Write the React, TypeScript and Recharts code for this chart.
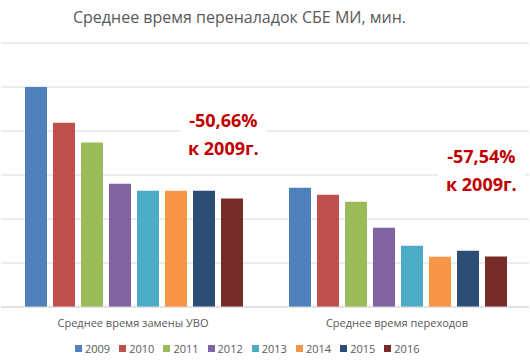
import { BarChart, Bar, XAxis, YAxis, CartesianGrid } from 'recharts';

// categories and per-year values (minutes)
const categories = ['Среднее время замены УВО', 'Среднее время переходов'];
const years = ['2009', '2010', '2011', '2012', '2013', '2014', '2015', '2016'];
const colors = ['#4F81BD', '#C0504D', '#9BBB59', '#8064A2', '#4BACC6', '#F79646', '#2C4D75', '#772C2A'];
const uvoValues = [50, 41.9, 37.4, 28, 26.4, 26.4, 26.4, 24.67];
const transitionValues = [27.1, 25.5, 23.9, 18, 13.9, 11.4, 12.8, 11.5];
const yTicks = [0, 10, 20, 30, 40, 50, 60];

const seriesByCategory = [uvoValues, transitionValues];

const chartData = categories.map((name, ci) => {
    const row: Record<string, any> = { name };
    years.forEach((y, yi) => { row[y] = seriesByCategory[ci][yi]; });
    return row;
});

const font = '"Open Sans", "Liberation Sans", sans-serif';

const noteStyle: React.CSSProperties = {
    position: 'absolute',
    background: '#ffffff',
    color: '#C00000',
    fontFamily: font,
    fontWeight: 700,
    fontSize: 18,
    lineHeight: '28px',
    textAlign: 'center',
    padding: '0 8px',
};

export default function App() {
    return (
        <div style={{ position: 'absolute', left: 0, top: 0, width: 530, height: 361, background: '#fff', fontFamily: font }}>
            <div style={{ position: 'absolute', left: 73, top: 6, fontSize: 16, color: '#595959', whiteSpace: 'nowrap' }}>
                Среднее время переналадок СБЕ МИ, мин.
            </div>
            <BarChart
                width={530}
                height={361}
                data={chartData}
                margin={{ top: 43, right: 1, bottom: 24, left: 1 }}
                barCategoryGap={24}
                barGap={6}
            >
                <CartesianGrid vertical={false} stroke="#d9d9d9" />
                <YAxis hide domain={[0, 60]} ticks={yTicks} />
                <XAxis
                    dataKey="name"
                    height={30}
                    tickLine={false}
                    axisLine={{ stroke: '#d9d9d9' }}
                    tickMargin={6}
                    tick={{ fontSize: 11, fill: '#595959', fontFamily: font }}
                />
                {years.map((y, i) => (
                    <Bar key={y} dataKey={y} fill={colors[i]} isAnimationActive={false} />
                ))}
            </BarChart>
            <div style={{ ...noteStyle, left: 180, top: 106 }}>-50,66%<br />к 2009г.</div>
            <div style={{ ...noteStyle, left: 438, top: 142 }}>-57,54%<br />к 2009г.</div>
            <div style={{ position: 'absolute', left: 75, top: 341, display: 'flex', fontSize: 11, color: '#595959' }}>
                {years.map((y, i) => (
                    <div key={y} style={{ display: 'flex', alignItems: 'center', width: 44.2 }}>
                        <span style={{ width: 7, height: 7, background: colors[i], marginRight: 3 }} />
                        <span>{y}</span>
                    </div>
                ))}
            </div>
        </div>
    );
}
